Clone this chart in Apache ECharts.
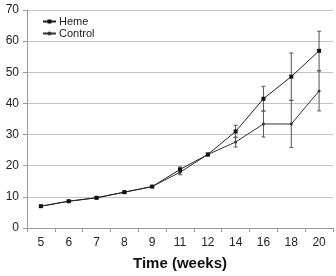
<!DOCTYPE html>
<html>
<head>
<meta charset="utf-8">
<script src="https://cdn.jsdelivr.net/npm/echarts@6/dist/echarts.min.js"></script>
<style>
  html, body { margin: 0; padding: 0; background: #fff; }
  #chart { width: 336px; height: 276px; }
</style>
</head>
<body>
<div id="chart"></div>
<script>
const weeks = ["5", "6", "7", "8", "9", "11", "12", "14", "16", "18", "20"];
const heme = [7.0, 8.6, 9.7, 11.5, 13.3, 18.8, 23.6, 31.0, 41.5, 48.6, 56.9];
const control = [7.0, 8.6, 9.7, 11.5, 13.3, 17.9, 23.6, 27.6, 33.4, 33.4, 44.0];
const hemeErr = [0.2, 0.3, 0.3, 0.3, 0.3, 0.8, 0.4, 2.0, 4.0, 7.6, 6.3];
const controlErr = [0.2, 0.3, 0.3, 0.3, 0.3, 0.8, 0.4, 1.6, 4.2, 7.6, 6.4];

const myChart = echarts.init(document.getElementById("chart"));

// error bars: vertical line with little caps
const errorSeries = (values, errs) => ({
  type: "custom",
  silent: true,
  z: 1,
  data: values.map((v, i) => [i, v - errs[i], v + errs[i]]),
  renderItem: (params, api) => {
    const lo = api.coord([api.value(0), api.value(1)]);
    const hi = api.coord([api.value(0), api.value(2)]);
    const w = 2;
    const style = { stroke: "#555", lineWidth: 1 };
    return {
      type: "group",
      children: [
        { type: "line", shape: { x1: hi[0], y1: hi[1], x2: lo[0], y2: lo[1] }, style },
        { type: "line", shape: { x1: hi[0] - w, y1: hi[1], x2: hi[0] + w, y2: hi[1] }, style },
        { type: "line", shape: { x1: lo[0] - w, y1: lo[1], x2: lo[0] + w, y2: lo[1] }, style },
      ],
    };
  },
});

const options = {
  animation: false,
  textStyle: { fontFamily: "Liberation Sans, Arial, sans-serif" },
  legend: {
    orient: "vertical",
    left: 37,
    top: 11,
    itemWidth: 13,
    itemHeight: 5,
    itemGap: 1,
    textStyle: { color: "#222", fontSize: 11, padding: [0, 0, 0, -2] },
    data: ["Heme", "Control"],
  },
  grid: { left: 27, right: 3, top: 10, bottom: 47 },
  xAxis: {
    type: "category",
    data: weeks,
    boundaryGap: true,
    name: "Time (weeks)",
    nameLocation: "middle",
    nameGap: 28,
    nameTextStyle: { fontSize: 15, fontWeight: "bold", color: "#111" },
    axisLine: { lineStyle: { color: "#999" } },
    axisTick: { show: true, lineStyle: { color: "#999" }, length: 4 },
    axisLabel: { color: "#222", fontSize: 12, margin: 9 },
  },
  yAxis: {
    type: "value",
    min: 0,
    max: 70,
    interval: 10,
    axisLine: { show: true, lineStyle: { color: "#999" } },
    axisTick: { show: true, lineStyle: { color: "#999" }, length: 4 },
    axisLabel: { color: "#222", fontSize: 12, margin: 8 },
    splitLine: { lineStyle: { color: "#c4c4c4" } },
  },
  series: [
    errorSeries(heme, hemeErr),
    errorSeries(control, controlErr),
    {
      name: "Heme",
      type: "line",
      data: heme,
      symbol: "rect",
      symbolSize: 4,
      z: 3,
      lineStyle: { color: "#222", width: 1 },
      itemStyle: { color: "#111" },
    },
    {
      name: "Control",
      type: "line",
      data: control,
      symbol: "circle",
      symbolSize: 3,
      z: 2,
      lineStyle: { color: "#333", width: 1 },
      itemStyle: { color: "#333" },
    },
  ],
};

myChart.setOption(options);
</script>
</body>
</html>
